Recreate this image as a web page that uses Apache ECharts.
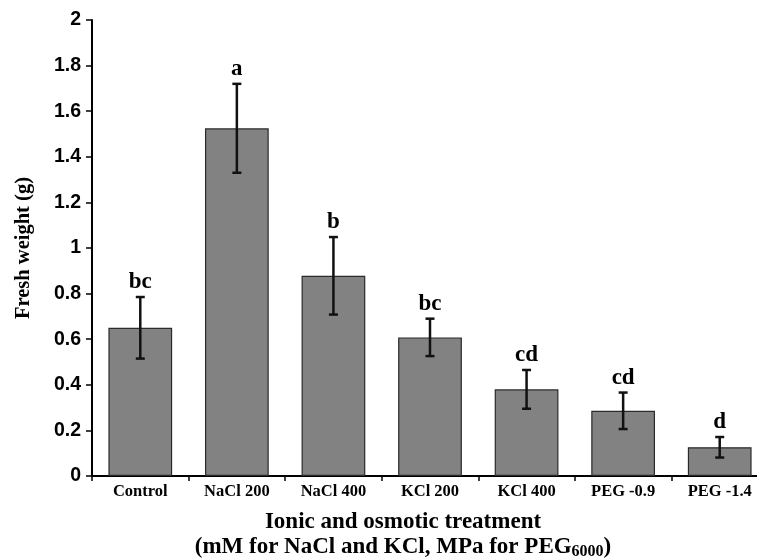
<!DOCTYPE html>
<html><head><meta charset="utf-8">
<script src="https://cdn.jsdelivr.net/npm/echarts@6/dist/echarts.min.js"></script>
<style>html,body{margin:0;padding:0;background:#fff}#c{width:757px;height:560px}</style>
</head><body><div id="c"></div>
<script>
const categories = ['Control','NaCl 200','NaCl 400','KCl 200','KCl 400','PEG -0.9','PEG -1.4'];
const means = [0.65, 1.525, 0.878, 0.608, 0.38, 0.286, 0.126];
const errors = [0.135, 0.195, 0.17, 0.082, 0.085, 0.08, 0.045];
const letters = ['bc','a','b','bc','cd','cd','d'];
const yTicks = [0, 0.2, 0.4, 0.6, 0.8, 1, 1.2, 1.4, 1.6, 1.8, 2];

const serif = '"Liberation Serif","Times New Roman",serif';
const sans = '"Liberation Sans",Arial,sans-serif';
const chart = echarts.init(document.getElementById('c'), null, {renderer:'canvas'});
chart.setOption({
  animation:false,
  grid:{left:92, right:-11, top:20, bottom:84, containLabel:false, outerBoundsMode:'none'},
  xAxis:{
    type:'category', data:categories,
    axisLine:{lineStyle:{color:'#000', width:2}},
    axisTick:{show:true, alignWithLabel:false, length:5, lineStyle:{color:'#000', width:1.5}},
    axisLabel:{color:'#000', fontFamily:serif, fontWeight:'bold', fontSize:16.5, margin:7},
    name:'{t|Ionic and osmotic treatment}\n{t|(mM for NaCl and KCl, MPa for PEG}{s|6000}{t|)}',
    nameLocation:'middle', nameGap:34,
    nameTextStyle:{padding:[0,54,0,0], rich:{
      t:{fontFamily:serif, fontWeight:'bold', fontSize:23, color:'#000', lineHeight:25},
      s:{fontFamily:serif, fontWeight:'bold', fontSize:16, color:'#000', lineHeight:25, verticalAlign:'bottom', padding:[3,0,0,0]}
    }}
  },
  yAxis:{
    type:'value', min:0, max:2, interval:0.2,
    axisLine:{show:true, lineStyle:{color:'#000', width:2}},
    axisTick:{show:true, length:6, lineStyle:{color:'#000', width:1.5}},
    splitLine:{show:false},
    axisLabel:{color:'#000', fontFamily:sans, fontWeight:'bold', fontSize:19.5, margin:11,
      formatter:v=>{const t=yTicks.find(x=>Math.abs(x-v)<1e-9);return t===undefined?'':String(t);}},
    name:'Fresh weight (g)', nameLocation:'middle', nameGap:58,
    nameTextStyle:{fontFamily:serif, fontWeight:'bold', fontSize:20.5, color:'#000'}
  },
  series:[
    {type:'bar', data:means, barWidth:'66%',
     itemStyle:{color:'#828282', borderColor:'#2a2a2a', borderWidth:1.2}},
    {type:'custom', data:means.map((m,i)=>[i,m,errors[i],letters[i]]),
     z:5,
     renderItem:(params, api)=>{
       const i=api.value(0), m=api.value(1), e=api.value(2);
       const top=api.coord([i,m+e]), bot=api.coord([i,m-e]);
       const x=top[0], cw=4.5;
       const st={stroke:'#111', lineWidth:2.5};
       return {type:'group', children:[
         {type:'line', shape:{x1:x,y1:top[1],x2:x,y2:bot[1]}, style:st},
         {type:'line', shape:{x1:x-cw,y1:top[1],x2:x+cw,y2:top[1]}, style:st},
         {type:'line', shape:{x1:x-cw,y1:bot[1],x2:x+cw,y2:bot[1]}, style:st},
         {type:'text', x:x, y:top[1]-3, style:{text:letters[i], fill:'#000', font:'bold 23px '+serif, align:'center', verticalAlign:'bottom'}}
       ]};
     }}
  ]
});
</script></body></html>
